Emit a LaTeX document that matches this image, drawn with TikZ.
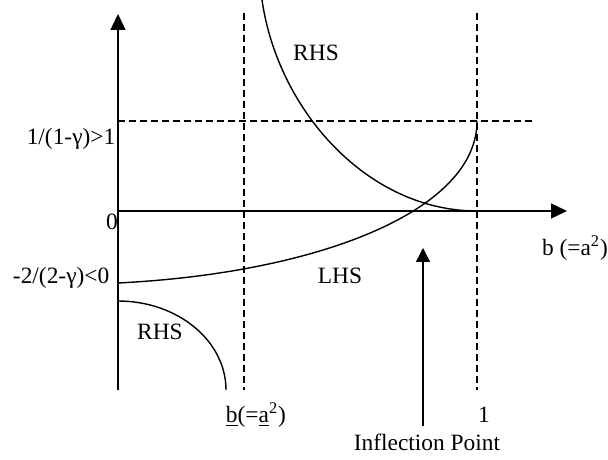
\documentclass[tikz,border=0pt]{standalone}
\usepackage{fontspec}
\setmainfont{Liberation Serif}
\usetikzlibrary{arrows.meta,positioning}

\begin{document}
\begin{tikzpicture}[x=0.5pt, y=0.5pt, line width=0.7pt,
    every node/.style={font=\fontsize{11.7}{14}\selectfont, inner sep=0pt},
    guide/.style={dash pattern=on 3.5pt off 2pt},
    axis/.style={-{Triangle[length=8pt,width=7.5pt]}}]
  \useasboundingbox (-118,-248) rectangle (490,211);
  % axes
  \coordinate (O) at (0,0);
  \draw[axis] (0,-179) -- (0,197);
  \draw[axis] (O) -- (449,0);
  % guides
  \draw[guide] (126,198) -- (126,-179);
  \draw[guide] (359,198) -- (359,-179);
  \draw[guide] (O |- 0,90) -- (414,90);
  % curves
  \draw (144,211) .. controls (160,100) and (250,0) .. (359,0);
  \draw (0,-72) .. controls (200,-62) and (359,0) .. (359,90);
  \draw (0,-90) arc[start angle=90, end angle=0, x radius=108, y radius=89];
  % labels
  \node (rhsTop) at (198,158) {RHS};
  \node (lhs) at (222,-65) {LHS};
  \node (rhsBot) at (42,-121) {RHS};
  \node[anchor=east] (yOne) at (-2,72) {1/(1-γ)>1};
  \node (zero) at (-6,-11) {0};
  \node[anchor=east] (yNeg) at (-8,-67) {-2/(2-γ)<0};
  \node (bAxis) at (457,-37) {b (=a\textsuperscript{2})};
  \node (bLow) at (138,-204) {\underline{b}(=\underline{a}\textsuperscript{2})};
  \node (bOne) at (366,-204) {1};
  \node (infl) at (309,-231) {Inflection Point};
  % inflection arrow
  \coordinate (inflBase) at (305,-215);
  \coordinate (inflTip) at (305,-37);
  \draw[-{Triangle[length=7pt,width=7pt]}] (inflBase) -- (inflTip);
\end{tikzpicture}
\end{document}
